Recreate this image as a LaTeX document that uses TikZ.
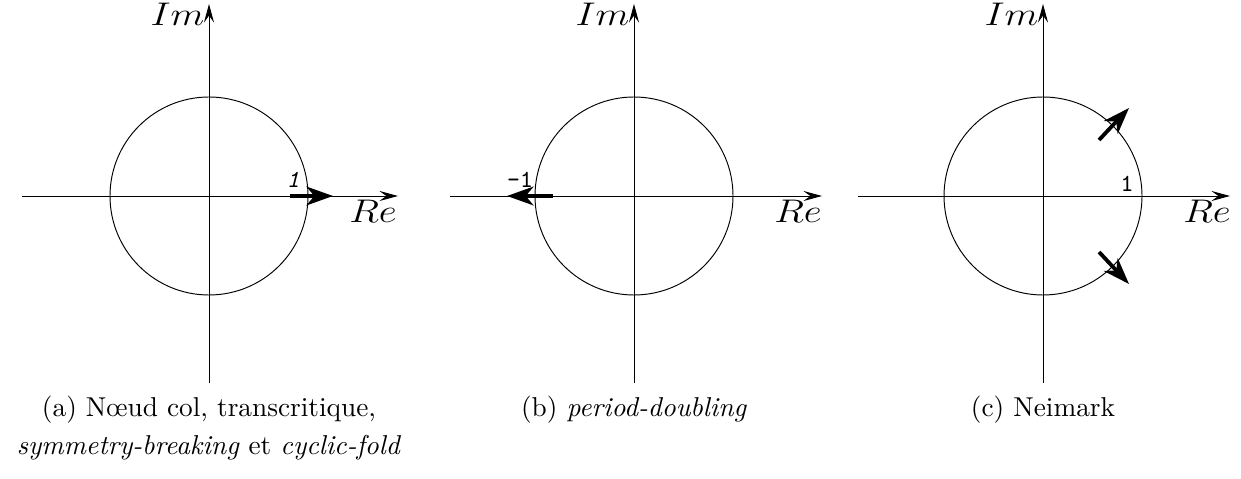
\documentclass[tikz,border=0pt]{standalone}
\usepackage{amsmath,amssymb}
\usepackage{graphicx}
\usepackage{tikz}
\usetikzlibrary{arrows.meta,positioning}
\tikzset{
  flaxis/.style={-{Stealth[length=2.4mm,width=1.3mm,inset=0.9mm]}, line width=0.35pt},
  flmult/.style={-{Stealth[length=3.4mm,width=2.4mm,inset=1mm]}, line width=1.4pt},
  flcirc/.style={line width=0.35pt},
  fllab/.style={font=\large, inner sep=0pt},
  flnum/.style={font=\ttfamily\small, inner sep=1pt},
  flcap/.style={font=\normalsize, align=center}
}
\newcommand{\flwide}[1]{\scalebox{1.2}[1]{$#1$}}
\begin{document}
\begin{tikzpicture}[x=0.3663pt, y=-0.3663pt]
  \useasboundingbox (0,0) rectangle (1241,479);
  % (a)
  \coordinate (a0) at (209,196);
  \coordinate (aW) at (22,196);
  \coordinate (aE) at (398,196);
  \coordinate (aS) at (209,383);
  \coordinate (aN) at (209,4);
  \draw[flaxis] (aW) -- (aE);
  \draw[flaxis] (aS) -- (aN);
  \draw[flcirc] (a0) circle[radius=99];
  \node[fllab, anchor=base east] (aIm) at (205,26) {\flwide{Im}};
  \node[fllab, anchor=base] (aRe) at (373,223) {\flwide{Re}};
  \coordinate (am1) at (290,196);
  \coordinate (am2) at (333,196);
  \draw[flmult] (am1) -- (am2);
  \node[flnum, font=\ttfamily\itshape\small] (aone) at (293,180) {1};
  \node[flcap] (acap) at (209,428) {(a) N\oe ud col, transcritique,\\[2pt]
    \textit{symmetry-breaking} et \textit{cyclic-fold}};
  % (b)
  \coordinate (b0) at (634,196);
  \coordinate (bW) at (450,196);
  \coordinate (bE) at (822,196);
  \coordinate (bS) at (634,383);
  \coordinate (bN) at (634,4);
  \draw[flaxis] (bW) -- (bE);
  \draw[flaxis] (bS) -- (bN);
  \draw[flcirc] (b0) circle[radius=99];
  \node[fllab, anchor=base east] (bIm) at (630,26) {\flwide{Im}};
  \node[fllab, anchor=base] (bRe) at (798,223) {\flwide{Re}};
  \coordinate (bm1) at (553,196);
  \coordinate (bm2) at (507,196);
  \draw[flmult] (bm1) -- (bm2);
  \node[flnum] (bone) at (520,180) {-1};
  \node[flcap] (bcap) at (634,410) {(b) \textit{period-doubling}};
  % (c)
  \coordinate (c0) at (1043,196);
  \coordinate (cW) at (858,196);
  \coordinate (cE) at (1230,196);
  \coordinate (cS) at (1043,383);
  \coordinate (cN) at (1043,4);
  \draw[flaxis] (cW) -- (cE);
  \draw[flaxis] (cS) -- (cN);
  \draw[flcirc] (c0) circle[radius=99];
  \node[fllab, anchor=base east] (cIm) at (1039,26) {\flwide{Im}};
  \node[fllab, anchor=base] (cRe) at (1207,223) {\flwide{Re}};
  \coordinate (cu1) at (1099,140);
  \coordinate (cu2) at (1129,108);
  \coordinate (cd1) at (1099,252);
  \coordinate (cd2) at (1129,284);
  \draw[flmult] (cu1) -- (cu2);
  \draw[flmult] (cd1) -- (cd2);
  \node[flnum] (cone) at (1127,184) {1};
  \node[flcap] (ccap) at (1043,410) {(c) Neimark};
\end{tikzpicture}
\end{document}
